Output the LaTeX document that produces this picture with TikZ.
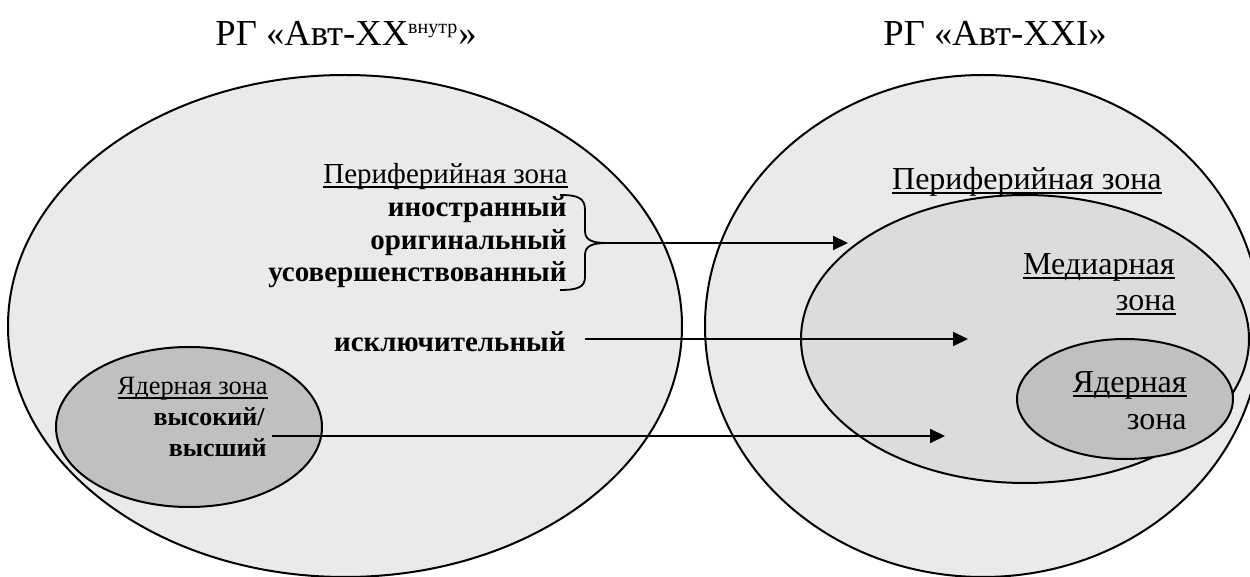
\documentclass[tikz,border=0pt]{standalone}
\usepackage{fontspec}
\setmainfont{Liberation Serif}
\usetikzlibrary{arrows.meta}

% underline at a fixed depth below the baseline, crossing the descenders
\newsavebox\ulinebox
\newcommand\zoneul[1]{\sbox\ulinebox{#1}\rlap{\rule[-1.9pt]{\wd\ulinebox}{0.9pt}}\usebox\ulinebox}

\definecolor{outerfill}{gray}{0.918}
\definecolor{midfill}{gray}{0.863}
\definecolor{corefill}{gray}{0.753}

\tikzset{
  zone/.style={draw=black, line width=1pt},
  txt/.style={inner sep=0pt, anchor=base east},
  ttl/.style={inner sep=0pt, anchor=base west, font=\fontsize{18.3}{22}\selectfont},
  lefttxt/.style={txt, font=\fontsize{14.5}{16}\selectfont},
  leftbold/.style={txt, font=\fontsize{14.5}{16}\selectfont\bfseries},
  coretxt/.style={txt, font=\fontsize{13.2}{15}\selectfont},
  corebold/.style={txt, font=\fontsize{13}{15}\selectfont\bfseries},
  righttxt/.style={txt, font=\fontsize{16}{18}\selectfont},
  arr/.style={line width=1pt, -{Triangle[length=7.5pt,width=7pt]}},
}

\begin{document}
\begin{tikzpicture}[x=0.5pt, y=-0.5pt]
  \useasboundingbox (0,0) rectangle (1250,577);
  \clip (0,0) rectangle (1250,577);

  % the two radial groups
  \draw[zone, fill=outerfill] (345,326) ellipse [x radius=337, y radius=251];
  \draw[zone, fill=outerfill] (983,326) ellipse [x radius=278, y radius=251];
  % zones of the right group
  \draw[zone, fill=midfill] (1025,339) ellipse [x radius=224, y radius=144];
  \draw[zone, fill=corefill] (1125,399) ellipse [x radius=108, y radius=60];
  % core zone of the left group
  \draw[zone, fill=corefill] (189,427) ellipse [x radius=133, y radius=80];

  % titles
  \node[ttl] (t1) at (215,46) {РГ «Авт-XX\textsuperscript{\fontsize{10}{10}\selectfont внутр}»};
  \node[ttl] (t2) at (883,46) {РГ «Авт-XXI»};

  % left group: periphery
  \node[lefttxt]  (lpz) at (568,184) {\zoneul{Периферийная зона}};
  \node[leftbold] (lp1) at (567,217) {иностранный};
  \node[leftbold] (lp2) at (567,250) {оригинальный};
  \node[leftbold] (lp3) at (567,282) {усовершенствованный};
  \node[leftbold] (isk) at (566,352) {исключительный};

  % left group: core
  \node[coretxt]  (lnz) at (268,395) {\zoneul{Ядерная зона}};
  \node[corebold] (ln1) at (265,426) {высокий/};
  \node[corebold] (ln2) at (267,457) {высший};

  % right group labels
  \node[righttxt] (rpz) at (1162,190) {\zoneul{Периферийная зона}};
  \node[righttxt] (rm1) at (1175,275) {\zoneul{Медиарная}};
  \node[righttxt] (rm2) at (1176,311) {\zoneul{зона}};
  \node[righttxt] (rn1) at (1187,393) {\zoneul{Ядерная}};
  \node[righttxt] (rn2) at (1187,430) {зона};

  % brace grouping the three periphery words
  \draw[line width=0.9pt]
    (560,195) .. controls (578,195) and (585,198) .. (585,210) -- (585,231)
    .. controls (585,240) and (592,243) .. (607,243)
    .. controls (592,243) and (585,246) .. (585,255) -- (585,277)
    .. controls (585,287) and (578,290) .. (560,290);
  \coordinate (brtip) at (607,243);

  % transitions between the groups
  \coordinate (a1e) at (848,243);
  \coordinate (a2s) at (585,339);
  \coordinate (a2e) at (968,339);
  \coordinate (a3s) at (272,436);
  \coordinate (a3e) at (945,436);
  \draw[arr] (brtip) -- (a1e);
  \draw[arr] (a2s) -- (a2e);
  \draw[arr] (a3s) -- (a3e);
\end{tikzpicture}
\end{document}
